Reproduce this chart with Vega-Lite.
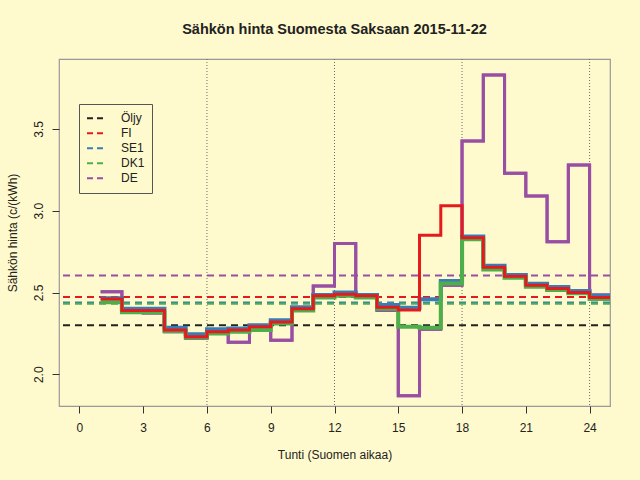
{
  "$schema": "https://vega.github.io/schema/vega-lite/v6.json",
  "width": 551,
  "height": 347,
  "autosize": {"type": "none"},
  "padding": {"left": 59, "top": 59, "right": 30, "bottom": 74},
  "background": "#FFFACD",
  "title": {
    "text": "Sähkön hinta Suomesta Saksaan 2015-11-22",
    "anchor": "middle",
    "font": "Liberation Sans",
    "fontSize": 14.5,
    "fontWeight": "bold",
    "color": "#222222",
    "offset": 21
  },
  "datasets": {
    "prices": [
      {"hour": 1, "area": "FI", "price": 2.46}, {"hour": 2, "area": "FI", "price": 2.39}, {"hour": 3, "area": "FI", "price": 2.39},
      {"hour": 4, "area": "FI", "price": 2.27}, {"hour": 5, "area": "FI", "price": 2.23}, {"hour": 6, "area": "FI", "price": 2.26},
      {"hour": 7, "area": "FI", "price": 2.27}, {"hour": 8, "area": "FI", "price": 2.29}, {"hour": 9, "area": "FI", "price": 2.32},
      {"hour": 10, "area": "FI", "price": 2.40}, {"hour": 11, "area": "FI", "price": 2.48}, {"hour": 12, "area": "FI", "price": 2.49},
      {"hour": 13, "area": "FI", "price": 2.48}, {"hour": 14, "area": "FI", "price": 2.41}, {"hour": 15, "area": "FI", "price": 2.393},
      {"hour": 16, "area": "FI", "price": 2.85}, {"hour": 17, "area": "FI", "price": 3.03}, {"hour": 18, "area": "FI", "price": 2.835},
      {"hour": 19, "area": "FI", "price": 2.655}, {"hour": 20, "area": "FI", "price": 2.60}, {"hour": 21, "area": "FI", "price": 2.545},
      {"hour": 22, "area": "FI", "price": 2.525}, {"hour": 23, "area": "FI", "price": 2.50}, {"hour": 24, "area": "FI", "price": 2.47},
      {"hour": 25, "area": "FI", "price": 2.47},
      {"hour": 1, "area": "SE1", "price": 2.465}, {"hour": 2, "area": "SE1", "price": 2.40}, {"hour": 3, "area": "SE1", "price": 2.40},
      {"hour": 4, "area": "SE1", "price": 2.285}, {"hour": 5, "area": "SE1", "price": 2.245}, {"hour": 6, "area": "SE1", "price": 2.275},
      {"hour": 7, "area": "SE1", "price": 2.28}, {"hour": 8, "area": "SE1", "price": 2.30}, {"hour": 9, "area": "SE1", "price": 2.33},
      {"hour": 10, "area": "SE1", "price": 2.41}, {"hour": 11, "area": "SE1", "price": 2.485}, {"hour": 12, "area": "SE1", "price": 2.50},
      {"hour": 13, "area": "SE1", "price": 2.485}, {"hour": 14, "area": "SE1", "price": 2.424}, {"hour": 15, "area": "SE1", "price": 2.407},
      {"hour": 16, "area": "SE1", "price": 2.459}, {"hour": 17, "area": "SE1", "price": 2.57}, {"hour": 18, "area": "SE1", "price": 2.842},
      {"hour": 19, "area": "SE1", "price": 2.664}, {"hour": 20, "area": "SE1", "price": 2.607}, {"hour": 21, "area": "SE1", "price": 2.554},
      {"hour": 22, "area": "SE1", "price": 2.534}, {"hour": 23, "area": "SE1", "price": 2.51}, {"hour": 24, "area": "SE1", "price": 2.48},
      {"hour": 25, "area": "SE1", "price": 2.48},
      {"hour": 1, "area": "DK1", "price": 2.44}, {"hour": 2, "area": "DK1", "price": 2.38}, {"hour": 3, "area": "DK1", "price": 2.38},
      {"hour": 4, "area": "DK1", "price": 2.265}, {"hour": 5, "area": "DK1", "price": 2.225}, {"hour": 6, "area": "DK1", "price": 2.25},
      {"hour": 7, "area": "DK1", "price": 2.26}, {"hour": 8, "area": "DK1", "price": 2.27}, {"hour": 9, "area": "DK1", "price": 2.31},
      {"hour": 10, "area": "DK1", "price": 2.39}, {"hour": 11, "area": "DK1", "price": 2.47}, {"hour": 12, "area": "DK1", "price": 2.48},
      {"hour": 13, "area": "DK1", "price": 2.47}, {"hour": 14, "area": "DK1", "price": 2.40}, {"hour": 15, "area": "DK1", "price": 2.29},
      {"hour": 16, "area": "DK1", "price": 2.285}, {"hour": 17, "area": "DK1", "price": 2.555}, {"hour": 18, "area": "DK1", "price": 2.825},
      {"hour": 19, "area": "DK1", "price": 2.64}, {"hour": 20, "area": "DK1", "price": 2.59}, {"hour": 21, "area": "DK1", "price": 2.535},
      {"hour": 22, "area": "DK1", "price": 2.515}, {"hour": 23, "area": "DK1", "price": 2.495}, {"hour": 24, "area": "DK1", "price": 2.46},
      {"hour": 25, "area": "DK1", "price": 2.46},
      {"hour": 1, "area": "DE", "price": 2.505}, {"hour": 2, "area": "DE", "price": 2.385}, {"hour": 3, "area": "DE", "price": 2.375},
      {"hour": 4, "area": "DE", "price": 2.26}, {"hour": 5, "area": "DE", "price": 2.22}, {"hour": 6, "area": "DE", "price": 2.25},
      {"hour": 7, "area": "DE", "price": 2.196}, {"hour": 8, "area": "DE", "price": 2.28}, {"hour": 9, "area": "DE", "price": 2.208},
      {"hour": 10, "area": "DE", "price": 2.39}, {"hour": 11, "area": "DE", "price": 2.54}, {"hour": 12, "area": "DE", "price": 2.80},
      {"hour": 13, "area": "DE", "price": 2.475}, {"hour": 14, "area": "DE", "price": 2.39}, {"hour": 15, "area": "DE", "price": 1.869},
      {"hour": 16, "area": "DE", "price": 2.275}, {"hour": 17, "area": "DE", "price": 2.545}, {"hour": 18, "area": "DE", "price": 3.427},
      {"hour": 19, "area": "DE", "price": 3.83}, {"hour": 20, "area": "DE", "price": 3.23}, {"hour": 21, "area": "DE", "price": 3.09},
      {"hour": 22, "area": "DE", "price": 2.81}, {"hour": 23, "area": "DE", "price": 3.28}, {"hour": 24, "area": "DE", "price": 2.485},
      {"hour": 25, "area": "DE", "price": 2.485}
    ],
    "averages": [
      {"area": "Öljy", "avg": 2.30},
      {"area": "FI", "avg": 2.473},
      {"area": "SE1", "avg": 2.439},
      {"area": "DK1", "avg": 2.432},
      {"area": "DE", "avg": 2.604}
    ],
    "sixhours": [
      {"hour": 6}, {"hour": 12}, {"hour": 18}, {"hour": 24}
    ]
  },
  "layer": [
    {
      "data": {"name": "prices"},
      "transform": [{"filter": "datum.area === 'DE'"}],
      "mark": {"type": "line", "interpolate": "step-after", "strokeWidth": 3, "clip": true},
      "encoding": {
        "x": {
          "field": "hour",
          "type": "quantitative",
          "scale": {"domain": [-0.96, 24.96], "nice": false, "zero": false},
          "axis": {
            "title": "Tunti (Suomen aikaa)",
            "values": [0, 3, 6, 9, 12, 15, 18, 21, 24],
            "grid": false,
            "domain": false,
            "tickSize": 7,
            "tickColor": "#333333",
            "labelPadding": 9,
            "titlePadding": 16
          }
        },
        "y": {
          "field": "price",
          "type": "quantitative",
          "scale": {"domain": [1.806, 3.928], "nice": false, "zero": false},
          "axis": {
            "title": "Sähkön hinta (c/(kWh)",
            "values": [2.0, 2.5, 3.0, 3.5],
            "format": ".1f",
            "grid": false,
            "domain": false,
            "tickSize": 7,
            "tickColor": "#333333",
            "labelAngle": -90,
            "labelAlign": "center",
            "labelBaseline": "bottom",
            "labelPadding": 7,
            "titlePadding": 13
          }
        },
        "color": {
          "field": "area",
          "type": "nominal",
          "scale": {
            "domain": ["Öljy", "FI", "SE1", "DK1", "DE"],
            "range": ["#222222", "#E41A1C", "#377EB8", "#4DAF4A", "#984EA3"]
          },
          "legend": {
            "title": null,
            "orient": "none",
            "legendX": 20,
            "legendY": 45,
            "symbolType": "stroke",
            "symbolDash": [6, 4],
            "symbolStrokeWidth": 2,
            "symbolSize": 400,
            "labelOffset": 13,
            "padding": 7,
            "rowPadding": 0,
            "clipHeight": 14.3,
            "strokeColor": "#555555",
            "fillColor": "#FFFACD"
          }
        }
      }
    },
    {
      "data": {"name": "sixhours"},
      "mark": {"type": "rule", "color": "#6b6b6b", "strokeWidth": 1, "strokeDash": [1, 2]},
      "encoding": {
        "x": {"field": "hour", "type": "quantitative"}
      }
    },
    {
      "data": {"name": "averages"},
      "mark": {"type": "rule", "strokeWidth": 2, "strokeDash": [7, 5]},
      "encoding": {
        "y": {"field": "avg", "type": "quantitative"},
        "color": {"field": "area", "type": "nominal"}
      }
    },
    {
      "data": {"name": "prices"},
      "transform": [{"filter": "datum.area === 'DE'"}],
      "mark": {"type": "line", "interpolate": "step-after", "strokeWidth": 3, "clip": true},
      "encoding": {
        "x": {"field": "hour", "type": "quantitative"},
        "y": {"field": "price", "type": "quantitative"},
        "color": {"field": "area", "type": "nominal"}
      }
    },
    {
      "data": {"name": "prices"},
      "transform": [{"filter": "datum.area === 'SE1'"}],
      "mark": {"type": "line", "interpolate": "step-after", "strokeWidth": 4, "clip": true},
      "encoding": {
        "x": {"field": "hour", "type": "quantitative"},
        "y": {"field": "price", "type": "quantitative"},
        "color": {"field": "area", "type": "nominal"}
      }
    },
    {
      "data": {"name": "prices"},
      "transform": [{"filter": "datum.area === 'DK1'"}],
      "mark": {"type": "line", "interpolate": "step-after", "strokeWidth": 4, "clip": true},
      "encoding": {
        "x": {"field": "hour", "type": "quantitative"},
        "y": {"field": "price", "type": "quantitative"},
        "color": {"field": "area", "type": "nominal"}
      }
    },
    {
      "data": {"name": "prices"},
      "transform": [{"filter": "datum.area === 'FI'"}],
      "mark": {"type": "line", "interpolate": "step-after", "strokeWidth": 3, "clip": true},
      "encoding": {
        "x": {"field": "hour", "type": "quantitative"},
        "y": {"field": "price", "type": "quantitative"},
        "color": {"field": "area", "type": "nominal"}
      }
    }
  ],
  "config": {
    "font": "Liberation Sans",
    "view": {"stroke": "#999999", "strokeWidth": 1.2},
    "axis": {
      "labelFont": "Liberation Sans",
      "labelFontSize": 12,
      "labelColor": "#222222",
      "titleFont": "Liberation Sans",
      "titleFontSize": 12,
      "titleFontWeight": "normal",
      "titleColor": "#222222"
    },
    "legend": {
      "labelFont": "Liberation Sans",
      "labelFontSize": 12,
      "labelColor": "#222222"
    }
  }
}
